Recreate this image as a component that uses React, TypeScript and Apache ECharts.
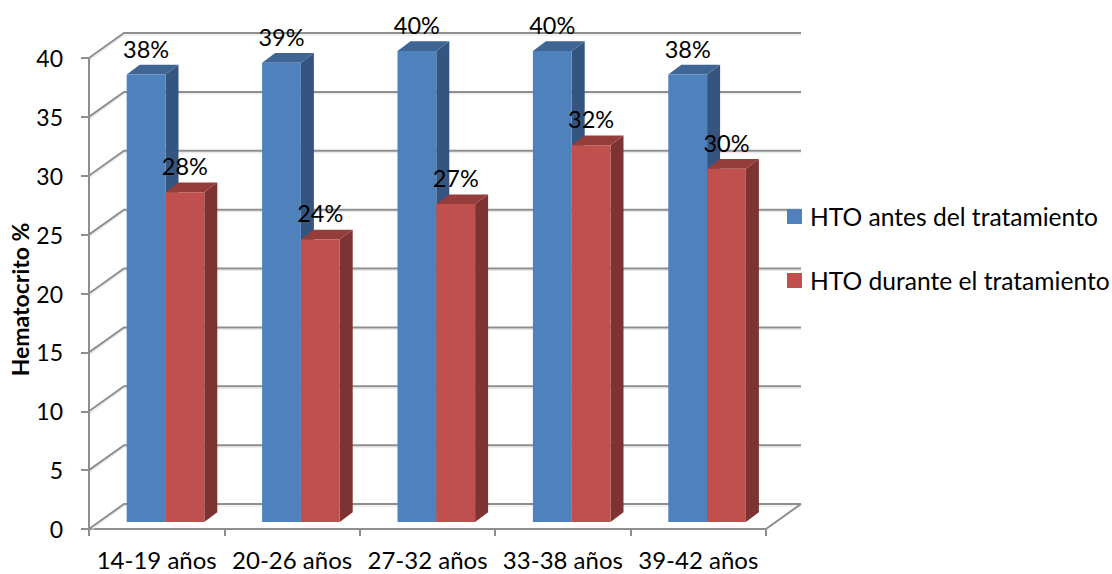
import React, { useEffect, useRef } from "react";
import * as echarts from "echarts";

const categories = ["14-19 años", "20-26 años", "27-32 años", "33-38 años", "39-42 años"];
const antes = [38, 39, 40, 40, 38];
const durante = [28, 24, 27, 32, 30];
const yTicks = [0, 5, 10, 15, 20, 25, 30, 35, 40];
const seriesNames = ["HTO antes del tratamiento", "HTO durante el tratamiento"];

const FONT = "Lato";
const GRID_COLOR = "#8e8e8e";
const DEPTH_X = 35;
const DEPTH_Y = 25;
const BAR_W = 38.8;
const BAR_DX = 8.8;
const BAR_DY = 7;
const BAR_DEPTH_X = 13;
const BAR_DEPTH_Y = 9.7;

function wallItem(params: any, api: any) {
  const cs = params.coordSys;
  const y = api.coord([0, api.value(1)])[1];
  const left = cs.x;
  const right = cs.x + cs.width;
  const lineStyle = { stroke: GRID_COLOR, lineWidth: 2, fill: "none" };
  const shadowStyle = { stroke: "#e4e4e4", lineWidth: 1, fill: "none" };
  const children: any[] = [
    {
      type: "polyline",
      shape: { points: [[left + 1, y + 2], [left + DEPTH_X, y - DEPTH_Y + 2], [right + DEPTH_X, y - DEPTH_Y + 2]] },
      style: shadowStyle,
    },
    {
      type: "polyline",
      shape: { points: [[left, y], [left + DEPTH_X, y - DEPTH_Y], [right + DEPTH_X, y - DEPTH_Y]] },
      style: lineStyle,
    },
  ];
  if (api.value(1) === 0) {
    children.push({
      type: "line",
      shape: { x1: right, y1: y, x2: right + DEPTH_X, y2: y - DEPTH_Y },
      style: lineStyle,
    });
  }
  return { type: "group", children };
}

function barItem(seriesIndex: number, colors: { front: string; top: string; side: string }) {
  return (_params: any, api: any) => {
    const i = api.value(0);
    const v = api.value(1);
    const [cx, y0Raw] = api.coord([i, 0]);
    const yTopRaw = api.coord([i, v])[1];
    const x0 = cx + BAR_DX - BAR_W + seriesIndex * BAR_W;
    const x1 = x0 + BAR_W;
    const y0 = y0Raw - BAR_DY;
    const yT = yTopRaw - BAR_DY;
    return {
      type: "group",
      children: [
        {
          type: "polygon",
          shape: { points: [[x1, y0], [x1 + BAR_DEPTH_X, y0 - BAR_DEPTH_Y], [x1 + BAR_DEPTH_X, yT - BAR_DEPTH_Y], [x1, yT]] },
          style: { fill: colors.side },
        },
        {
          type: "polygon",
          shape: { points: [[x0, yT], [x0 + BAR_DEPTH_X, yT - BAR_DEPTH_Y], [x1 + BAR_DEPTH_X, yT - BAR_DEPTH_Y], [x1, yT]] },
          style: { fill: colors.top },
        },
        {
          type: "rect",
          shape: { x: x0, y: yT, width: BAR_W, height: y0 - yT },
          style: { fill: colors.front },
        },
        {
          type: "text",
          z2: 50,
          style: {
            x: (x0 + x1) / 2,
            y: yT - 26,
            text: `${v}%`,
            fill: "#000",
            font: `23.5px ${FONT}`,
            align: "center",
            verticalAlign: "middle",
          },
        },
      ],
    };
  };
}

export default function App() {
  const ref = useRef<HTMLDivElement>(null);
  useEffect(() => {
    const chart = echarts.init(ref.current!, null, { renderer: "svg" });
    chart.setOption({
      animation: false,
      backgroundColor: "#ffffff",
      textStyle: { fontFamily: FONT },
      grid: { left: 89, right: 346, top: 58, bottom: 45, containLabel: false, outerBoundsMode: "none" },
      legend: {
        data: seriesNames,
        orient: "vertical",
        left: 782,
        top: 199,
        itemWidth: 15,
        itemHeight: 15,
        itemGap: 39,
        icon: "rect",
        selectedMode: false,
        textStyle: { fontFamily: FONT, fontSize: 24.6, color: "#000", padding: [0, 0, 0, 3] },
      },
      xAxis: {
        type: "category",
        data: categories,
        boundaryGap: true,
        axisLine: { lineStyle: { color: GRID_COLOR, width: 2 } },
        axisTick: { show: true, alignWithLabel: false, length: 7, lineStyle: { color: GRID_COLOR, width: 2 } },
        axisLabel: { color: "#000", fontFamily: FONT, fontSize: 24, lineHeight: 20, margin: 20, interval: 0 },
        splitLine: { show: false },
      },
      yAxis: {
        type: "value",
        min: 0,
        max: 40,
        interval: 5,
        name: "Hematocrito %",
        nameLocation: "middle",
        nameGap: 58,
        nameMoveOverlap: false,
        nameTextStyle: { color: "#000", fontFamily: FONT, fontSize: 23, fontWeight: "bold", padding: [0, 12, 0, 0] },
        axisLine: { show: true, lineStyle: { color: GRID_COLOR, width: 2 } },
        axisTick: { show: true, length: 8, lineStyle: { color: GRID_COLOR, width: 2 } },
        axisLabel: { color: "#000", fontFamily: FONT, fontSize: 23, margin: 26 },
        splitLine: { show: false },
      },
      series: [
        {
          type: "custom",
          name: "walls",
          silent: true,
          z: 1,
          data: yTicks.map((t) => [0, t]),
          encode: { x: 0, y: 1 },
          renderItem: wallItem,
        },
        {
          type: "custom",
          name: seriesNames[0],
          z: 2,
          itemStyle: { color: "#4F81BD" },
          data: antes.map((v, i) => [i, v]),
          encode: { x: 0, y: 1 },
          renderItem: barItem(0, { front: "#4F81BD", top: "#3E6594", side: "#34557F" }),
        },
        {
          type: "custom",
          name: seriesNames[1],
          z: 3,
          itemStyle: { color: "#C0504D" },
          data: durante.map((v, i) => [i, v]),
          encode: { x: 0, y: 1 },
          renderItem: barItem(1, { front: "#C0504D", top: "#953D3B", side: "#7D3331" }),
        },
      ],
    });
    return () => chart.dispose();
  }, []);
  return <div ref={ref} style={{ position: "fixed", left: 0, top: 0, width: 1112, height: 574 }} />;
}
